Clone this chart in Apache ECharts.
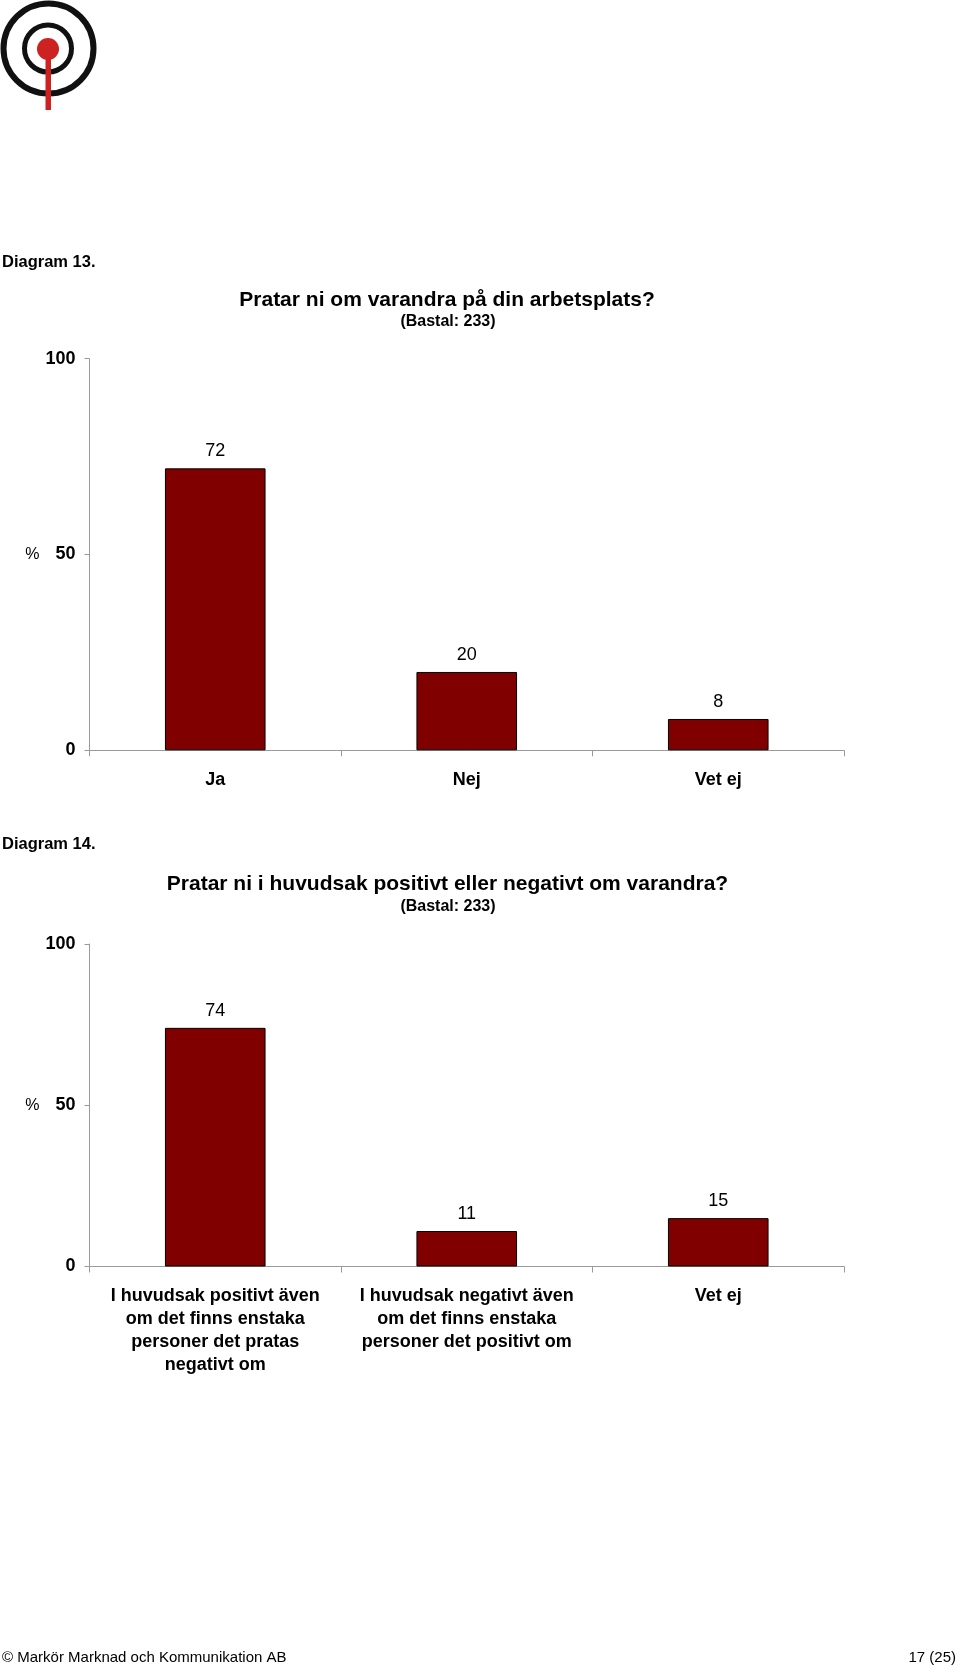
<!DOCTYPE html>
<html>
<head>
<meta charset="utf-8">
<script src="https://cdn.jsdelivr.net/npm/echarts@6/dist/echarts.min.js"></script>
<style>
  html, body { margin: 0; padding: 0; background: #fff; }
  #page { width: 960px; height: 1669px; }
</style>
</head>
<body>
<div id="page"></div>
<script>
const categories13 = ['Ja', 'Nej', 'Vet ej']
const values13 = [72, 20, 8]

const categories14 = [
  'I huvudsak positivt även\nom det finns enstaka\npersoner det pratas\nnegativt om',
  'I huvudsak negativt även\nom det finns enstaka\npersoner det positivt om',
  'Vet ej',
]
const values14 = [74, 11, 15]

const yMin = 0
const yMax = 100
const yStep = 50

const FONT = '"Liberation Sans", Arial, sans-serif'
const BAR = '#800000'
const AXIS = '#9a9a9a'

const chart = echarts.init(document.getElementById('page'), null, { renderer: 'canvas' })

const text = (x, y, str, opts = {}) => ({
  type: 'text',
  x, y,
  style: {
    text: str,
    fontFamily: FONT,
    fontSize: opts.size || 16,
    fontWeight: opts.weight || 'normal',
    fill: '#000',
    align: opts.align || 'left',
    verticalAlign: 'middle',
  },
})

const xAxisFor = (gridIndex, cats) => ({
  type: 'category',
  gridIndex,
  data: cats,
  axisLine: { lineStyle: { color: AXIS, width: 1 } },
  axisTick: { show: true, length: 6, lineStyle: { color: AXIS } },
  axisLabel: {
    color: '#000', fontFamily: FONT, fontSize: 18, fontWeight: 'bold',
    lineHeight: 23, margin: 18, interval: 0,
  },
})

const yAxisFor = (gridIndex) => ({
  type: 'value',
  gridIndex,
  min: yMin, max: yMax, interval: yStep,
  name: '%',
  nameLocation: 'middle',
  nameRotate: 0,
  nameGap: 57,
  nameTextStyle: { color: '#000', fontFamily: FONT, fontSize: 16, align: 'center', verticalAlign: 'middle' },
  axisLine: { show: true, lineStyle: { color: AXIS, width: 1 } },
  axisTick: { show: true, length: 5, lineStyle: { color: AXIS } },
  axisLabel: { color: '#000', fontFamily: FONT, fontSize: 18, fontWeight: 'bold', margin: 14 },
  splitLine: { show: false },
})

const barSeries = (idx, values) => ({
  type: 'bar',
  xAxisIndex: idx,
  yAxisIndex: idx,
  data: values,
  barWidth: '40%',
  itemStyle: { color: BAR, borderColor: '#000', borderWidth: 1 },
  label: {
    show: true, position: 'top', distance: 8,
    color: '#000', fontFamily: FONT, fontSize: 18,
  },
  animation: false,
})

chart.setOption({
  backgroundColor: '#fff',
  animation: false,
  grid: [
    { left: 89.5, top: 358.7, width: 754.5, height: 391.6 },
    { left: 89.5, top: 944, width: 754.5, height: 322.5 },
  ],
  xAxis: [xAxisFor(0, categories13), xAxisFor(1, categories14)],
  yAxis: [yAxisFor(0), yAxisFor(1)],
  series: [barSeries(0, values13), barSeries(1, values14)],
  graphic: [
    // logo
    { type: 'circle', shape: { cx: 48.5, cy: 48.5, r: 45 }, style: { fill: 'none', stroke: '#111', lineWidth: 6 } },
    { type: 'circle', shape: { cx: 48, cy: 48.5, r: 23.5 }, style: { fill: 'none', stroke: '#111', lineWidth: 5 } },
    { type: 'rect', shape: { x: 45.5, y: 52, width: 5.5, height: 58 }, style: { fill: '#cc2222' } },
    { type: 'circle', shape: { cx: 48, cy: 49, r: 11 }, style: { fill: '#cc2222' } },

    text(2, 262, 'Diagram 13.', { size: 16.5, weight: 'bold' }),
    text(447, 300, 'Pratar ni om varandra på din arbetsplats?', { size: 21, weight: 'bold', align: 'center' }),
    text(448, 321.5, '(Bastal: 233)', { size: 16, weight: 'bold', align: 'center' }),

    text(2, 844, 'Diagram 14.', { size: 16.5, weight: 'bold' }),
    text(447.5, 884.5, 'Pratar ni i huvudsak positivt eller negativt om varandra?', { size: 21, weight: 'bold', align: 'center' }),
    text(448, 907, '(Bastal: 233)', { size: 16, weight: 'bold', align: 'center' }),

    text(2, 1658, '© Markör Marknad och Kommunikation AB', { size: 15 }),
    text(956, 1658, '17 (25)', { size: 15, align: 'right' }),
  ],
})
</script>
</body>
</html>
